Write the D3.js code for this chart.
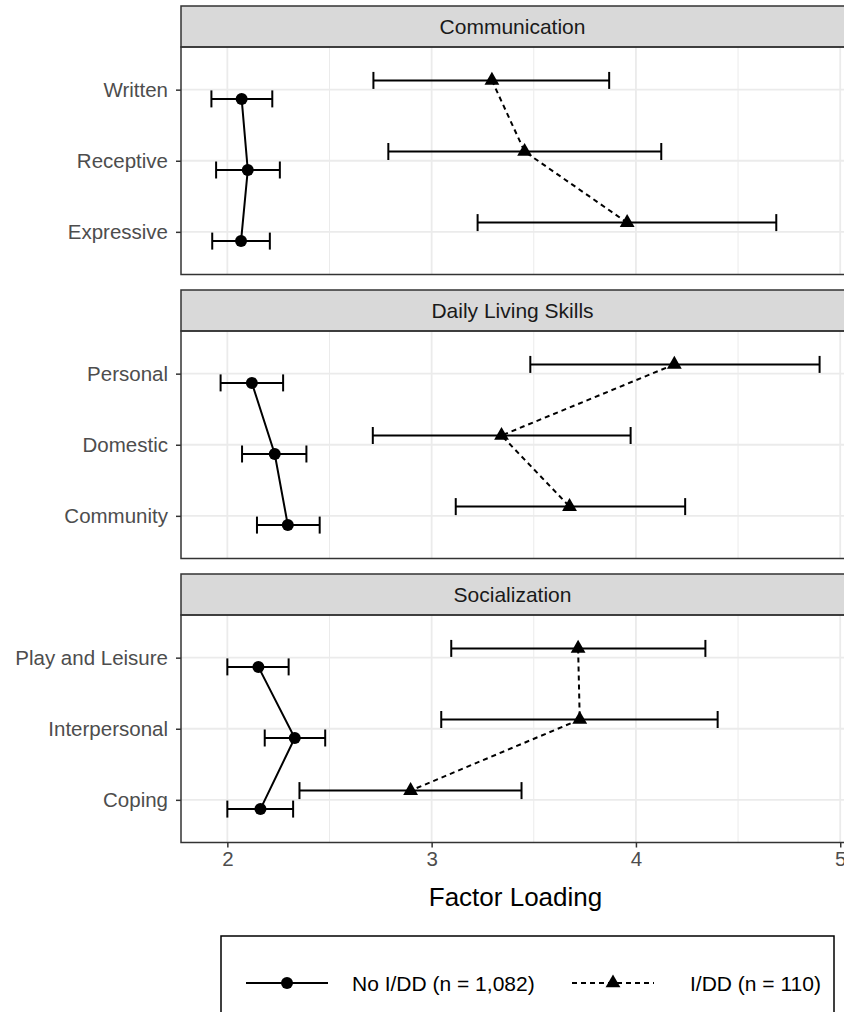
<!DOCTYPE html>
<html>
<head>
<meta charset="utf-8">
<script src="https://cdn.jsdelivr.net/npm/d3@7"></script>
<style>
  html, body { margin: 0; padding: 0; background: #fff; }
  svg { display: block; font-family: "Liberation Sans", Arial, sans-serif; }
</style>
</head>
<body>
<svg id="chart" width="844" height="1012"></svg>
<script>
// facets and their items (top to bottom)
const facets = ["Communication", "Daily Living Skills", "Socialization"];
const items = [
  ["Written", "Receptive", "Expressive"],
  ["Personal", "Domestic", "Community"],
  ["Play and Leisure", "Interpersonal", "Coping"]
];

// No I/DD (n = 1,082)
const noIdd   = [2.07, 2.10, 2.067, 2.12, 2.232, 2.296, 2.152, 2.33, 2.162];
const noIddLo = [1.922, 1.945, 1.926, 1.967, 2.072, 2.145, 2.00, 2.183, 2.00];
const noIddHi = [2.22, 2.257, 2.208, 2.273, 2.387, 2.452, 2.30, 2.479, 2.322];

// I/DD (n = 110)
const idd   = [3.295, 3.455, 3.957, 4.188, 3.342, 3.675, 3.717, 3.725, 2.897];
const iddLo = [2.715, 2.788, 3.225, 3.483, 2.712, 3.118, 3.096, 3.047, 2.353];
const iddHi = [3.869, 4.124, 4.687, 4.899, 3.974, 4.241, 4.34, 4.40, 3.44];

const xTicks = [2, 3, 4, 5];
const xMinor = [2.5, 3.5, 4.5];

const groups = [
  { name: "No I/DD (n = 1,082)", est: noIdd, lo: noIddLo, hi: noIddHi, shape: "circle", dash: null, dodge: 1 },
  { name: "I/DD (n = 110)", est: idd, lo: iddLo, hi: iddHi, shape: "triangle", dash: "5,4", dodge: -1 }
];

const svg = d3.select("#chart");

const left = 181, right = 850;
const top0 = 6, stripH = 41, bodyH = 227.5, gap = 15.5;

const allVals = noIddLo.concat(noIddHi, iddLo, iddHi);
const [mn, mx] = d3.extent(allVals);
const pad = (mx - mn) * 0.05;
const x = d3.scaleLinear().domain([mn - pad, mx + pad]).range([left, right]);

const tri = d3.symbol().type(d3.symbolTriangle).size(95);

facets.forEach((f, fi) => {
  const sTop = top0 + fi * (stripH + bodyH + gap);
  const bTop = sTop + stripH;
  const bBot = bTop + bodyH;
  const y = d3.scalePoint().domain(items[fi]).range([bTop, bBot]).padding(0.6);
  const dodgePx = y.step() * 0.13;

  const g = svg.append("g");

  // panel background + grid
  g.append("rect").attr("x", left).attr("y", bTop).attr("width", right - left).attr("height", bodyH).attr("fill", "#fff");
  g.selectAll(".minor").data(xMinor).join("line")
    .attr("x1", d => x(d)).attr("x2", d => x(d)).attr("y1", bTop).attr("y2", bBot)
    .attr("stroke", "#EBEBEB").attr("stroke-width", 1);
  g.selectAll(".major").data(xTicks).join("line")
    .attr("x1", d => x(d)).attr("x2", d => x(d)).attr("y1", bTop).attr("y2", bBot)
    .attr("stroke", "#EBEBEB").attr("stroke-width", 1.8);
  g.selectAll(".ymaj").data(items[fi]).join("line")
    .attr("x1", left).attr("x2", right).attr("y1", d => y(d)).attr("y2", d => y(d))
    .attr("stroke", "#EBEBEB").attr("stroke-width", 1.8);

  // strip
  g.append("rect").attr("x", left).attr("y", sTop).attr("width", right - left).attr("height", stripH)
    .attr("fill", "#D9D9D9").attr("stroke", "#333").attr("stroke-width", 1.5);
  g.append("text").attr("x", (left + right) / 2 - 3).attr("y", sTop + stripH / 2)
    .attr("text-anchor", "middle").attr("dominant-baseline", "central")
    .attr("font-size", 21).attr("fill", "#1A1A1A").text(f);

  // y axis
  const yAxis = g.append("g").attr("transform", `translate(${left},0)`)
    .call(d3.axisLeft(y).tickSize(5).tickPadding(8));
  yAxis.select(".domain").remove();
  yAxis.selectAll(".tick line").attr("stroke", "#333").attr("stroke-width", 1.5);
  yAxis.selectAll(".tick text").attr("font-size", 20.5).attr("fill", "#4D4D4D")
    .attr("font-family", "Liberation Sans, Arial, sans-serif");

  groups.forEach(gr => {
    const rows = items[fi].map((it, k) => ({
      item: it,
      est: gr.est[fi * 3 + k],
      lo: gr.lo[fi * 3 + k],
      hi: gr.hi[fi * 3 + k],
      yy: y(it) + gr.dodge * dodgePx
    }));

    // error bars
    rows.forEach(r => {
      g.append("line").attr("x1", x(r.lo)).attr("x2", x(r.hi)).attr("y1", r.yy).attr("y2", r.yy)
        .attr("stroke", "#000").attr("stroke-width", 2);
      [r.lo, r.hi].forEach(v => {
        g.append("line").attr("x1", x(v)).attr("x2", x(v)).attr("y1", r.yy - 8.5).attr("y2", r.yy + 8.5)
          .attr("stroke", "#000").attr("stroke-width", 2);
      });
    });

    // connecting line
    g.append("path")
      .attr("d", d3.line().x(r => x(r.est)).y(r => r.yy)(rows))
      .attr("fill", "none").attr("stroke", "#000").attr("stroke-width", 2)
      .attr("stroke-dasharray", gr.dash);

    // points
    rows.forEach(r => {
      if (gr.shape === "circle") {
        g.append("circle").attr("cx", x(r.est)).attr("cy", r.yy).attr("r", 6).attr("fill", "#000");
      } else {
        g.append("path").attr("d", tri).attr("transform", `translate(${x(r.est)},${r.yy})`).attr("fill", "#000");
      }
    });
  });

  // panel border
  g.append("rect").attr("x", left).attr("y", bTop).attr("width", right - left).attr("height", bodyH)
    .attr("fill", "none").attr("stroke", "#333").attr("stroke-width", 1.5);

  // x axis on last panel
  if (fi === facets.length - 1) {
    const xAxis = g.append("g").attr("transform", `translate(0,${bBot})`)
      .call(d3.axisBottom(x).tickValues(xTicks).tickFormat(d3.format("d")).tickSize(5).tickPadding(4));
    xAxis.select(".domain").remove();
    xAxis.selectAll(".tick line").attr("stroke", "#333").attr("stroke-width", 1.5);
    xAxis.selectAll(".tick text").attr("font-size", 20.5).attr("fill", "#4D4D4D")
      .attr("font-family", "Liberation Sans, Arial, sans-serif");

    svg.append("text").attr("x", (left + right) / 2).attr("y", bBot + 54)
      .attr("text-anchor", "middle").attr("dominant-baseline", "central")
      .attr("font-size", 26).attr("fill", "#000").text("Factor Loading");
  }
});

// legend
const lg = svg.append("g");
lg.append("rect").attr("x", 221).attr("y", 936).attr("width", 613).attr("height", 95)
  .attr("fill", "#fff").attr("stroke", "#000").attr("stroke-width", 1.5);
const legY = 983;
const keys = [
  { g: groups[0], x0: 246, tx: 352 },
  { g: groups[1], x0: 572, tx: 690 }
];
keys.forEach(k => {
  lg.append("line").attr("x1", k.x0).attr("x2", k.x0 + 82).attr("y1", legY).attr("y2", legY)
    .attr("stroke", "#000").attr("stroke-width", 2).attr("stroke-dasharray", k.g.dash);
  if (k.g.shape === "circle") {
    lg.append("circle").attr("cx", k.x0 + 41).attr("cy", legY).attr("r", 6).attr("fill", "#000");
  } else {
    lg.append("path").attr("d", tri).attr("transform", `translate(${k.x0 + 41},${legY})`).attr("fill", "#000");
  }
  lg.append("text").attr("x", k.tx).attr("y", legY).attr("dominant-baseline", "central")
    .attr("font-size", 21).attr("fill", "#000").text(k.g.name);
});
</script>
</body>
</html>
